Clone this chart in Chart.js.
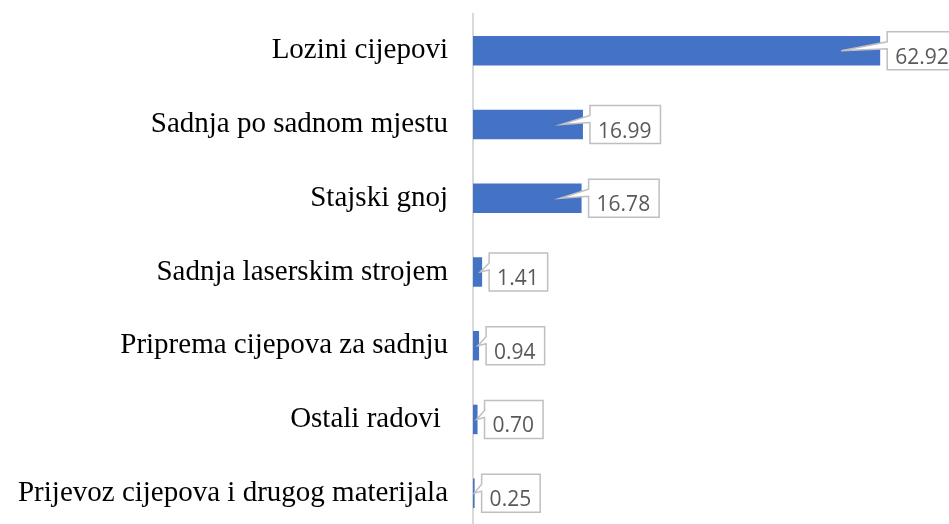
<!DOCTYPE html>
<html>
<head>
<meta charset="utf-8">
<script src="https://cdn.jsdelivr.net/npm/chart.js@4"></script>
<style>
  html, body { margin: 0; padding: 0; background: #fff; overflow: hidden; }
  #wrap { width: 949px; height: 531px; }
</style>
</head>
<body>
<div id="wrap"><canvas id="myChart" width="949" height="531"></canvas></div>
<script>
const categories = ['Lozini cijepovi', 'Sadnja po sadnom mjestu', 'Stajski gnoj', 'Sadnja laserskim strojem',
  'Priprema cijepova za sadnju', 'Ostali radovi ', 'Prijevoz cijepova i drugog materijala']
const values = [62.92, 16.99, 16.78, 1.41, 0.94, 0.70, 0.25]

// callout style data labels, like the excel ones
const callouts = {
  id: 'callouts',
  afterDatasetsDraw(chart) {
    const ctx = chart.ctx
    const meta = chart.getDatasetMeta(0)
    ctx.save()
    ctx.font = '21px "Open Sans"'
    meta.data.forEach((bar, i) => {
      const txt = values[i].toFixed(2)
      const w = ctx.measureText(txt).width + 17
      const L = bar.x + 7, T = bar.y - 19, B = bar.y + 19, R = L + w
      const tip = Math.max(bar.base + (bar.x - bar.base) * 0.8, bar.x - 39)
      ctx.beginPath()
      ctx.moveTo(L, T)
      ctx.lineTo(R, T)
      ctx.lineTo(R, B)
      ctx.lineTo(L, B)
      ctx.lineTo(L, T + 17)
      ctx.lineTo(tip, bar.y)
      ctx.lineTo(L, T + 10)
      ctx.closePath()
      ctx.fillStyle = '#fff'
      ctx.fill()
      ctx.lineWidth = 1.5
      ctx.strokeStyle = '#BFBFBF'
      ctx.stroke()
      ctx.fillStyle = '#595959'
      ctx.textAlign = 'left'
      ctx.textBaseline = 'alphabetic'
      ctx.fillText(txt, L + 8, B - 6)
    })
    ctx.restore()
  }
}

const ctx = document.getElementById('myChart')
new Chart(ctx, {
  type: 'bar',
  data: {
    labels: categories,
    datasets: [{
      data: values,
      backgroundColor: '#4472C4',
      barPercentage: 0.4,
      categoryPercentage: 1
    }]
  },
  options: {
    indexAxis: 'y',
    responsive: false,
    animation: false,
    layout: { padding: { top: 14, bottom: 1, right: 23, left: 0 } },
    plugins: { legend: { display: false }, tooltip: { enabled: false } },
    scales: {
      x: { display: false, min: 0, max: 70 },
      y: {
        afterFit: s => { s.width = 473; s.paddingTop = 0; s.paddingBottom = 0 },
        grid: { display: false },
        border: { display: true, color: '#D9D9D9', width: 2 },
        ticks: { color: '#000', padding: 17, font: { family: '"Liberation Serif"', size: 29 } }
      }
    }
  },
  plugins: [callouts]
})
</script>
</body>
</html>
